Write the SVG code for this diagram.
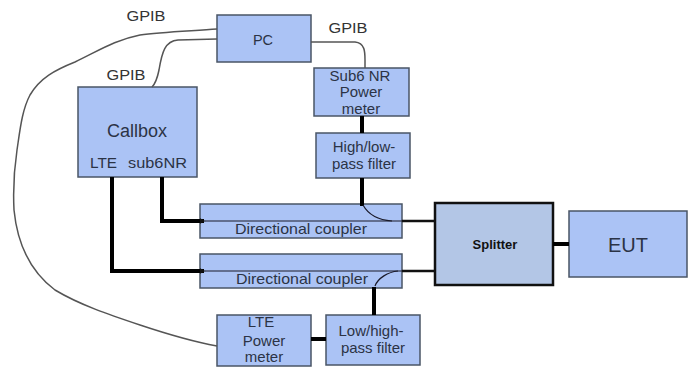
<svg xmlns="http://www.w3.org/2000/svg" width="691" height="375" viewBox="0 0 691 375">
<defs>
<style>
.box{fill:#abc3f5;stroke:#4a5566;stroke-width:1.5}
.spl{fill:#b3c6e6;stroke:#111;stroke-width:2.5}
.t{font-family:"Liberation Sans",Arial,sans-serif;fill:#2b3345;text-anchor:middle}
.g{font-family:"Liberation Sans",Arial,sans-serif;fill:#333;font-size:14.5px;text-anchor:middle}
.thick{fill:none;stroke:#000;stroke-width:4}
.med{fill:none;stroke:#111;stroke-width:2.5}
.thin{fill:none;stroke:#1a1a2a;stroke-width:1.2}
.gpib{fill:none;stroke:#555;stroke-width:1.5}
</style>
<marker id="ah" viewBox="0 0 10 10" refX="1" refY="5" markerWidth="5" markerHeight="5" orient="auto">
<path d="M10,0 L0,5 L10,10 z" fill="#111"/>
</marker>
</defs>
<rect width="691" height="375" fill="#fff"/>
<g id="pc"><rect class="box" x="217" y="15" width="94" height="47"/><text class="t" x="263" y="45" font-size="14.5">PC</text></g>
<g id="callbox"><rect class="box" x="78" y="87" width="119" height="90"/><text class="t" x="137" y="137" font-size="18">Callbox</text><text class="t" font-size="14.5" y="168" style="text-anchor:start"><tspan x="90" textLength="27" lengthAdjust="spacingAndGlyphs">LTE</tspan><tspan x="128" textLength="59" lengthAdjust="spacingAndGlyphs">sub6NR</tspan></text></g>
<g id="sub6meter"><rect class="box" x="314" y="68" width="95" height="48"/><text class="t" x="360" y="81" font-size="15">Sub6 NR</text><text class="t" x="361" y="97" font-size="15">Power</text><text class="t" x="361" y="114" font-size="15">meter</text></g>
<g id="hlfilter"><rect class="box" x="316" y="133" width="94" height="45"/><text class="t" x="364" y="152" font-size="15">High/low-</text><text class="t" x="364" y="169" font-size="15">pass filter</text></g>
<g id="coupler1"><rect class="box" x="200" y="204" width="202" height="34"/><text class="t" x="301" y="234" font-size="14.5" textLength="132" lengthAdjust="spacingAndGlyphs">Directional coupler</text></g>
<g id="coupler2"><rect class="box" x="200" y="254" width="202" height="34"/><text class="t" x="302" y="284" font-size="14.5" textLength="132" lengthAdjust="spacingAndGlyphs">Directional coupler</text></g>
<g id="splitter"><rect class="spl" x="435" y="203" width="118" height="82"/><text class="t" x="495" y="249" font-size="13" font-weight="bold" style="fill:#111">Splitter</text></g>
<g id="eut"><rect class="box" x="569" y="211" width="118" height="66"/><text class="t" x="628" y="252" font-size="20">EUT</text></g>
<g id="ltemeter"><rect class="box" x="217" y="315" width="94" height="51"/><text class="t" x="261" y="327" font-size="15">LTE</text><text class="t" x="264" y="346" font-size="15">Power</text><text class="t" x="264" y="362" font-size="15">meter</text></g>
<g id="lhfilter"><rect class="box" x="326" y="315" width="94" height="50"/><text class="t" x="371" y="336" font-size="15">Low/high-</text><text class="t" x="373" y="353" font-size="15">pass filter</text></g>
<g id="connectors">
<path class="gpib" d="M217,29 C190,31 160,32 140,35 C115,40 100,50 75,62 C55,70 40,78 30,95 C22,110 20,130 17,150 C14,170 13,190 14,210 C18,250 35,275 55,290 C80,305 110,315 140,325 C170,335 195,342 217,346"/>
<path class="gpib" d="M217,39 L178,40 C165,41 162,52 159,70 C157,80 155,84 152,87"/>
<path class="gpib" d="M311,42 L355,42 C365,43 365,52 365,60 L365,68"/>
<path class="thick" d="M362,116 V133"/>
<path class="thick" d="M362,178 V206"/>
<path class="thick" d="M112,177 V271 H204"/>
<path class="thick" d="M162,177 V221 H204"/>
<path class="thin" d="M402,221 H205" marker-end="url(#ah)"/>
<path class="thin" d="M402,271 H205" marker-end="url(#ah)"/>
<path class="thin" d="M363,205 C368,214 378,220 392,221"/>
<path class="thin" d="M398,271 C388,272 378,278 375,286"/>
<path class="med" d="M402,221 H435"/>
<path class="med" d="M402,271 H435"/>
<path class="thick" d="M374,287 V315"/>
<path class="thick" d="M553,244 H569"/>
<path class="thick" d="M311,339 H326"/>
</g>
<g id="gpib-labels">
<text class="g" x="146" y="21" textLength="39" lengthAdjust="spacingAndGlyphs">GPIB</text>
<text class="g" x="126" y="80" textLength="39" lengthAdjust="spacingAndGlyphs">GPIB</text>
<text class="g" x="348" y="33" textLength="39" lengthAdjust="spacingAndGlyphs">GPIB</text>
</g>
</svg>
